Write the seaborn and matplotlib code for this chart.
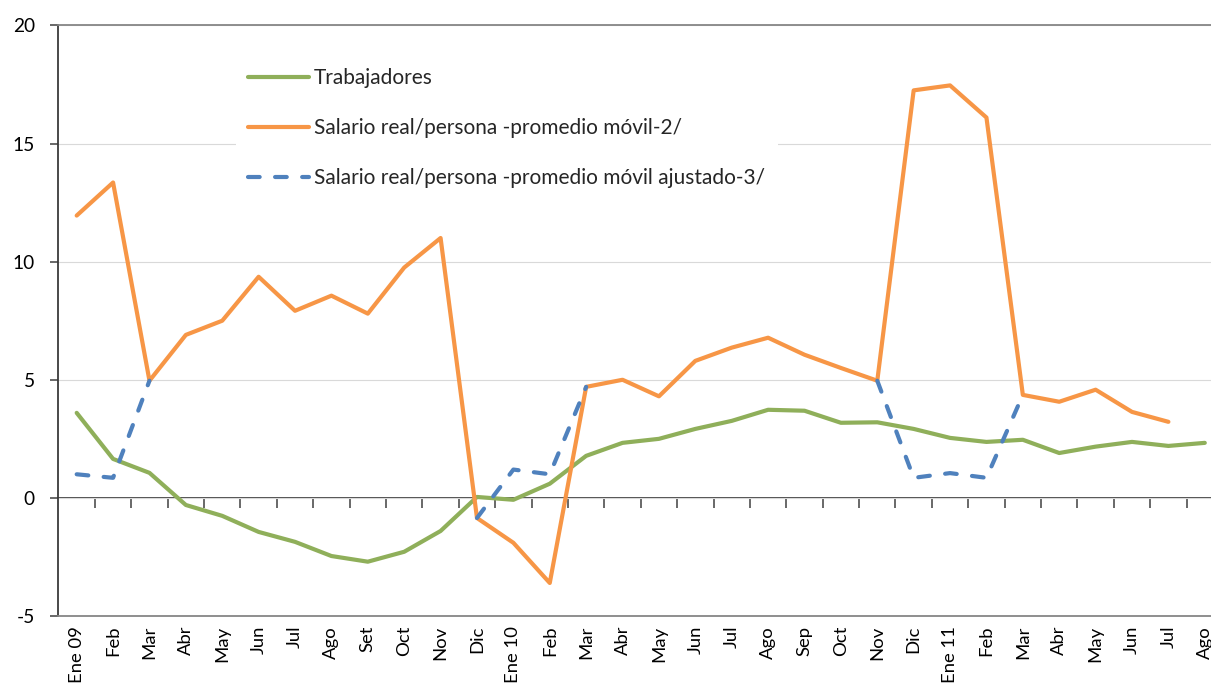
import numpy as np
import pandas as pd
import seaborn as sns
import matplotlib.pyplot as plt

# Datos (variación % anual)
meses = ['Ene 09', 'Feb', 'Mar', 'Abr', 'May', 'Jun', 'Jul', 'Ago', 'Set', 'Oct', 'Nov', 'Dic',
         'Ene 10', 'Feb', 'Mar', 'Abr', 'May', 'Jun', 'Jul', 'Ago', 'Sep', 'Oct', 'Nov', 'Dic',
         'Ene 11', 'Feb', 'Mar', 'Abr', 'May', 'Jun', 'Jul', 'Ago']

trabajadores = [3.6, 1.65, 1.06, -0.3, -0.76, -1.44, -1.86, -2.46, -2.7, -2.28, -1.4, 0.04,
                -0.08, 0.6, 1.78, 2.33, 2.5, 2.92, 3.26, 3.73, 3.69, 3.18, 3.2, 2.92,
                2.54, 2.37, 2.46, 1.9, 2.17, 2.37, 2.2, 2.33]

salario = [11.95, 13.35, 4.96, 6.9, 7.5, 9.36, 7.92, 8.56, 7.8, 9.75, 11.0, -0.85,
           -1.9, -3.6, 4.7, 5.0, 4.3, 5.8, 6.36, 6.78, 6.06, 5.5, 4.96, 17.25,
           17.46, 16.1, 4.36, 4.07, 4.58, 3.64, 3.22, np.nan]

nan = np.nan
salario_ajustado = [1.0, 0.85, 4.96, nan, nan, nan, nan, nan, nan, nan, nan, -0.85,
                    1.2, 1.0, 4.7, nan, nan, nan, nan, nan, nan, nan, 4.96, 0.85,
                    1.05, 0.85, 4.36, nan, nan, nan, nan, nan]

etiquetas = ['Trabajadores',
             'Salario real/persona -promedio móvil-2/',
             'Salario real/persona -promedio móvil ajustado-3/']

pos = np.arange(len(meses))
df = pd.DataFrame({'pos': pos, 'trab': trabajadores, 'sal': salario, 'aj': salario_ajustado})
# tramos de la serie ajustada (se corta donde no hay dato)
df['tramo'] = df['aj'].isna().cumsum()
df_aj = df.dropna(subset=['aj'])

sns.set_style('white')
plt.rcParams['font.family'] = ['Lato', 'DejaVu Sans']
plt.rcParams['axes.unicode_minus'] = False

fig = plt.figure(figsize=(12.11, 6.9), dpi=100)
ax = fig.add_axes([0.0483, 0.1072, 0.9616, 0.856])

verde = '#8FAF5A'
naranja = '#F79646'
azul = '#4F81BD'

sns.lineplot(data=df, x='pos', y='trab', ax=ax, color=verde, lw=3.0, zorder=3)
sns.lineplot(data=df, x='pos', y='sal', ax=ax, color=naranja, lw=3.0, zorder=4)
sns.lineplot(data=df_aj, x='pos', y='aj', units='tramo', estimator=None, ax=ax,
             color=azul, lw=3.0, linestyle=(0, (2.8, 3.7)), zorder=5)
for ln in ax.lines[2:]:
    ln.set_dash_capstyle('round')

handles = [ax.lines[0], ax.lines[1], ax.lines[2]]
leg = ax.legend(handles, etiquetas, loc='upper left', bbox_to_anchor=(0.1434, 0.967),
                fontsize=15, frameon=True, facecolor='white', edgecolor='none',
                framealpha=1, handlelength=2.9, handletextpad=0.25, labelspacing=1.45,
                borderpad=0.6)
leg.get_frame().set_boxstyle('square', pad=0)

ax.set_xlim(-0.5, len(meses) - 0.5)
ax.set_ylim(-5, 20)
ax.set_yticks(range(-5, 21, 5))
ax.set_xticks(pos)
ax.set_xticklabels(meses, rotation=90)
ax.set_xlabel('')
ax.set_ylabel('')

ax.grid(axis='y', color='#D9D9D9', lw=0.8)
ax.set_axisbelow(True)
ax.tick_params(axis='x', length=0, pad=7, labelsize=13.3, labelcolor='black')
ax.tick_params(axis='y', left=True, length=6, width=1.1, direction='out', color='#404040',
               pad=11, labelsize=13.8, labelcolor='black')

ax.spines['left'].set_color('#3A3A3A')
ax.spines['left'].set_linewidth(1.3)
for s in ['top', 'bottom']:
    ax.spines[s].set_color('#868686')
    ax.spines[s].set_linewidth(1.3)
ax.spines['right'].set_visible(False)

# eje en cero con marcas entre meses
eje0 = ax.secondary_xaxis(0.2)
eje0.set_xticks(pos[:-1] + 0.5)
eje0.tick_params(length=7, width=1.1, direction='out', color='#404040', labelbottom=False)
eje0.spines['bottom'].set_color('#404040')
eje0.spines['bottom'].set_linewidth(1.3)

fig.savefig('out.png', dpi=100)
